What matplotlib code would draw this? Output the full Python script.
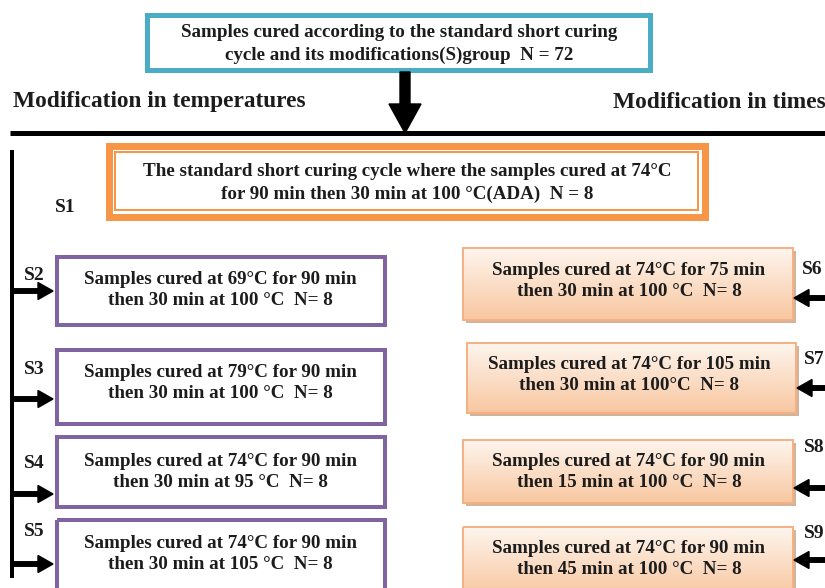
import numpy as np
import matplotlib
matplotlib.use("Agg")
import matplotlib.pyplot as plt
from matplotlib.patches import Rectangle, FancyArrow

# ---- content ----
top_text = "Samples cured according to the standard short curing\ncycle and its modifications(S)group  N = 72"
std_label = "S1"
std_text = "The standard short curing cycle where the samples cured at 74°C\nfor 90 min then 30 min at 100 °C(ADA)  N = 8"
left_heading = "Modification in temperatures"
right_heading = "Modification in times"
temp_labels = ["S2", "S3", "S4", "S5"]
temp_texts = [
    "Samples cured at 69°C for 90 min\nthen 30 min at 100 °C  N= 8",
    "Samples cured at 79°C for 90 min\nthen 30 min at 100 °C  N= 8",
    "Samples cured at 74°C for 90 min\nthen 30 min at 95 °C  N= 8",
    "Samples cured at 74°C for 90 min\nthen 30 min at 105 °C  N= 8",
]
time_labels = ["S6", "S7", "S8", "S9"]
time_texts = [
    "Samples cured at 74°C for 75 min\nthen 30 min at 100 °C  N= 8",
    "Samples cured at 74°C for 105 min\nthen 30 min at 100°C  N= 8",
    "Samples cured at 74°C for 90 min\nthen 15 min at 100 °C  N= 8",
    "Samples cured at 74°C for 90 min\nthen 45 min at 100 °C  N= 8",
]

# ---- layout (pixel units) ----
W, H = 825, 588
FONT = "Liberation Serif"
TXT = "#1c1c1c"
PX = 72.0 / 100.0  # points per pixel
BOX_FS = 13.7
LAB_FS = 14
LS = 1.38

fig = plt.figure(figsize=(W / 100, H / 100), dpi=100)
ax = fig.add_axes([0, 0, 1, 1])
ax.set_xlim(0, W)
ax.set_ylim(H, 0)
ax.axis("off")


def frame(x0, y0, x1, y1, color, lw_px):
    h = lw_px / 2
    ax.add_patch(Rectangle((x0 + h, y0 + h), x1 - x0 - lw_px, y1 - y0 - lw_px,
                           fill=False, edgecolor=color, linewidth=lw_px * PX,
                           joinstyle="miter", zorder=3))


def label(x, y, s, size=BOX_FS, ha="center"):
    ax.text(x, y, s, fontsize=size, fontfamily=FONT, fontweight="bold",
            color=TXT, ha=ha, va="center", linespacing=LS, zorder=5)


# top box
frame(144, 12, 652, 72, "#4BACC6", 5)
label(399, 44, top_text)

# big down arrow
ax.add_patch(FancyArrow(405, 72, 0, 61, width=10, head_width=32, head_length=29,
                        length_includes_head=True, color="black", zorder=4))

# headings
ax.text(13, 102, left_heading, fontsize=16.8, fontfamily=FONT, fontweight="bold",
        color=TXT, ha="left", va="center")
ax.text(613, 102, right_heading, fontsize=16.8, fontfamily=FONT, fontweight="bold",
        color=TXT, ha="left", va="center")

# horizontal rule
ax.plot([10, W + 2], [133, 133], color="black", lw=5 * PX, solid_capstyle="butt", zorder=4)

# standard box (double orange border)
frame(105, 142, 708, 220, "#F79646", 7)
frame(114, 151, 699, 211, "#F79646", 2)
label(407, 183, std_text)
label(55, 207, std_label, size=LAB_FS, ha="left")

# left vertical line
ax.plot([12, 12], [150, 578], color="black", lw=4 * PX, solid_capstyle="butt", zorder=4)

left_boxes = [(55, 255, 387, 327), (55, 348, 387, 426), (55, 435, 387, 509), (55, 518, 387, 594)]
left_text_y = [290, 383, 472, 554]
left_arrow_y = [291, 399, 494, 564]
left_label_y = [276, 369, 463, 531]
for (x0, y0, x1, y1), ty, ay, ly, lab, txt in zip(left_boxes, left_text_y, left_arrow_y,
                                                   left_label_y, temp_labels, temp_texts):
    frame(x0, y0, x1, y1, "#8064A2", 4)
    label(220, ty, txt)
    label(24, ly, lab, size=LAB_FS, ha="left")
    ax.add_patch(FancyArrow(12, ay, 41, 0, width=4.5, head_width=17, head_length=15,
                            length_includes_head=True, color="black", zorder=4))

# right boxes with gradient fill
right_boxes = [(463, 248, 793, 320), (467, 343, 796, 413), (463, 440, 793, 503), (463, 527, 793, 596)]
right_text_y = [281, 375, 472, 559]
right_arrow_y = [298, 388, 488, 560]
right_label_y = [269, 360, 447, 534]
right_label_x = [802, 804, 804, 804]
c_top = np.array([254, 245, 238]) / 255
c_bot = np.array([248, 199, 160]) / 255
grad = np.linspace(0, 1, 100)[:, None, None]
img = c_top * (1 - grad) + c_bot * grad
for (x0, y0, x1, y1), ty, ay, ly, lx, lab, txt in zip(right_boxes, right_text_y, right_arrow_y,
                                                       right_label_y, right_label_x,
                                                       time_labels, time_texts):
    # shadow
    ax.add_patch(Rectangle((x0 + 3, y0 + 3), x1 - x0, y1 - y0, facecolor="#D2B49C",
                           edgecolor="none", zorder=1))
    ax.imshow(img, extent=(x0, x1, y1, y0), aspect="auto", origin="upper",
              interpolation="bilinear", zorder=2)
    ax.add_patch(Rectangle((x0, y0), x1 - x0, y1 - y0, fill=False,
                           edgecolor="#F4B183", linewidth=1.4, zorder=3))
    label(629, ty, txt)
    label(lx, ly, lab, size=LAB_FS, ha="left")
    ax.add_patch(FancyArrow(W + 2, ay, -(W + 2 - (x1 + 1)), 0, width=4.5, head_width=17,
                            head_length=15, length_includes_head=True, color="black", zorder=4))

ax.set_xlim(0, W)
ax.set_ylim(H, 0)
fig.savefig("out.png", dpi=100, facecolor="white")
